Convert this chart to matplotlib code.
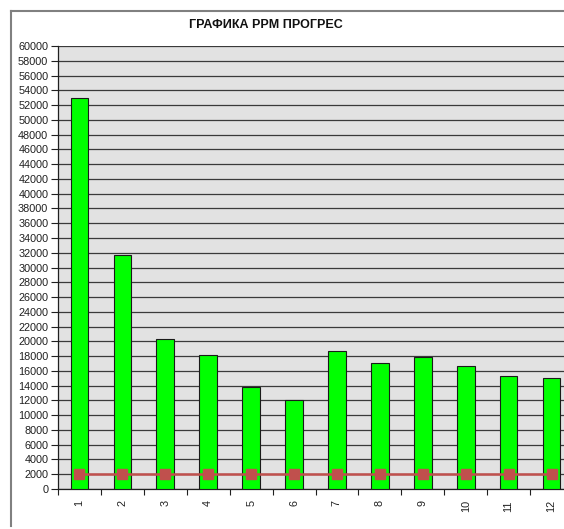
import matplotlib
matplotlib.use("Agg")
import matplotlib.pyplot as plt
from matplotlib.lines import Line2D
from matplotlib.ticker import MultipleLocator, FixedLocator

plt.rcParams['font.family'] = ['Liberation Sans', 'DejaVu Sans']

categories = ['1', '2', '3', '4', '5', '6', '7', '8', '9', '10', '11', '12']
ppm_values = [53000, 31700, 20300, 18100, 13800, 12050, 18650, 17100, 17850, 16650, 15250, 15100]
target_values = [2000] * 12
title = 'ГРАФИКА PPM ПРОГРЕС'

W, H = 564, 529
fig = plt.figure(figsize=(W / 100, H / 100), dpi=100)
fig.patch.set_facecolor('white')

# outer chart frame
fig.add_artist(Line2D([11 / W, 11 / W], [1 - 11 / H, 1 - 526 / H], color='#808080', lw=1.5))
fig.add_artist(Line2D([11 / W, 1.0], [1 - 11 / H, 1 - 11 / H], color='#808080', lw=1.5))

left, right, top, bottom = 58, 573, 46, 489
ax = fig.add_axes([left / W, 1 - bottom / H, (right - left) / W, (bottom - top) / H])
ax.set_facecolor('#e2e2e2')

x = list(range(len(categories)))
ax.bar(x, ppm_values, width=0.41, color='#00ff00', edgecolor='#1a1a1a', linewidth=0.8, zorder=3)
ax.plot(x, target_values, color='#c0504d', lw=1.8, marker='s', markersize=7,
        markerfacecolor='#c0504d', markeredgecolor='#c0504d', zorder=4)

ax.set_xlim(-0.5, len(categories) - 0.5)
ax.set_ylim(0, 60000)
ax.yaxis.set_major_locator(MultipleLocator(2000))
ax.yaxis.grid(True, color='#3a3a3a', linewidth=0.9, zorder=1)
ax.set_axisbelow(True)

for s in ['top', 'right']:
    ax.spines[s].set_visible(False)
ax.spines['left'].set_color('#202020')
ax.spines['bottom'].set_color('#202020')
ax.spines['left'].set_linewidth(0.9)
ax.spines['bottom'].set_linewidth(0.9)

ax.set_xticks(x)
ax.set_xticklabels(categories, rotation=90, fontsize=7.8, color='#202020')
ax.tick_params(axis='x', which='major', length=0, pad=8)
ax.xaxis.set_minor_locator(FixedLocator([i + 0.5 for i in range(-1, len(categories))]))
ax.tick_params(axis='x', which='minor', length=4, width=0.8, color='#202020', direction='out')
ax.tick_params(axis='y', length=5, width=0.8, color='#202020', direction='out', labelsize=7.8,
               labelcolor='#202020', pad=2)

fig.text(266 / W, 1 - 25 / H, title, ha='center', va='center', fontsize=9, fontweight='bold', color='#111111')

fig.savefig('out.png', dpi=100, facecolor='white')
